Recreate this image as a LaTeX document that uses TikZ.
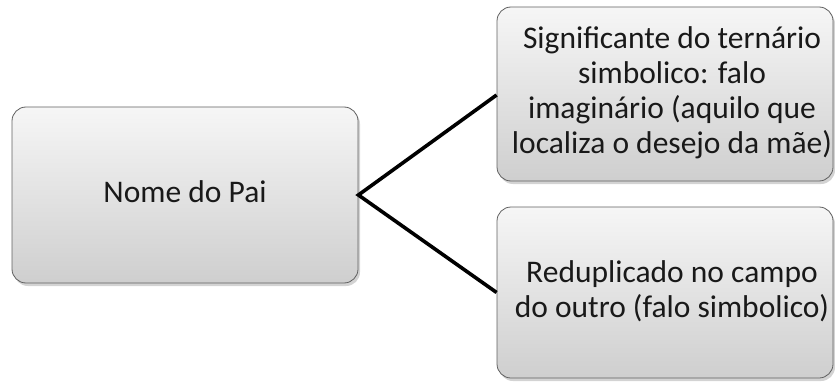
\documentclass[tikz,border=0pt]{standalone}
\usepackage{fontspec}
\setmainfont{Carlito}
\usetikzlibrary{shadows}
\newcommand{\boxtext}[2][0pt]{\raisebox{#1}{\fontsize{31.5}{35}\selectfont\begin{tabular}{@{}c@{}}#2\end{tabular}}}
\begin{document}
\begin{tikzpicture}[x=1pt,y=1pt,
  boxn/.style={draw=gray!75!black, line width=0.8pt, rounded corners=14pt,
    top color=gray!7, bottom color=gray!38, align=center, inner sep=0pt,
    text=black!90,
    drop shadow={shadow xshift=2pt, shadow yshift=-3pt, opacity=0.35, fill=gray}},
  conn/.style={line width=3.6pt, black}]
\useasboundingbox (0,0) rectangle (835,381);
\node[boxn, minimum width=346pt, minimum height=176pt] (pai) at (185,186) {\boxtext[-1pt]{Nome do Pai}};
\node[boxn, minimum width=336pt, minimum height=174pt] (sig) at (665,287)
  {\boxtext[-10pt]{\hspace*{14pt}Significante do ternário\\\hspace*{14pt}simbolico: falo\\\hspace*{14pt}imaginário (aquilo que\\\hspace*{14pt}localiza o desejo da mãe)}};
\node[boxn, minimum width=336pt, minimum height=171pt] (red) at (665,88.5)
  {\boxtext[-1pt]{\hspace*{14pt}Reduplicado no campo\\\hspace*{14pt}do outro (falo simbolico)}};
\coordinate (v) at (pai.east);
\draw[conn, line join=miter] ([yshift=-1pt]sig.west) -- (v) -- (red.west);
\end{tikzpicture}
\end{document}
